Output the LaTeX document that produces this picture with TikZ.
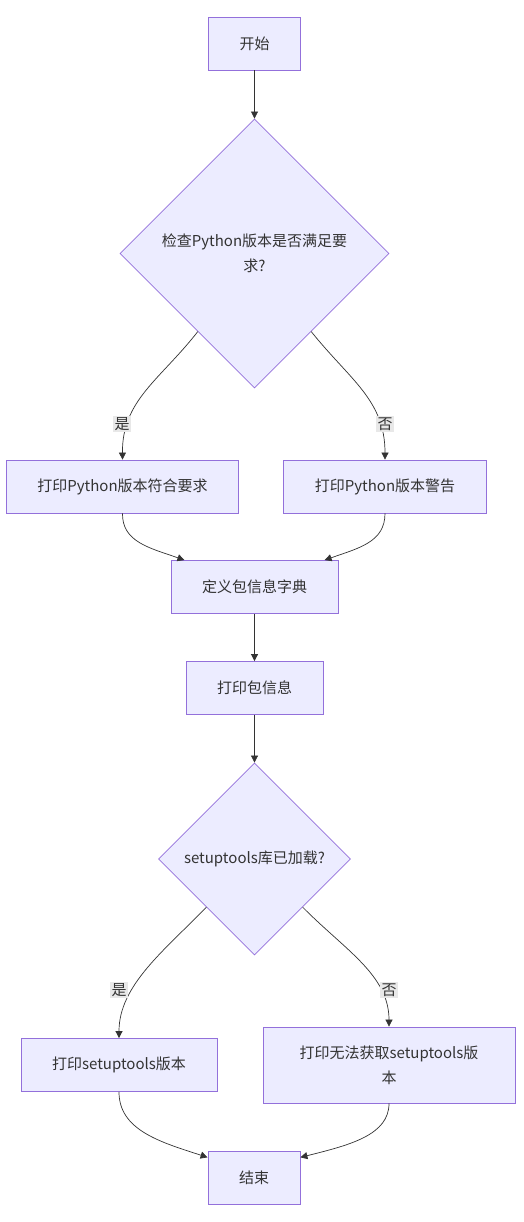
\documentclass[tikz,border=0pt]{standalone}
\usepackage{fontspec}
\setmainfont{Noto Sans CJK SC}
\usetikzlibrary{shapes.geometric,arrows.meta}
\definecolor{boxfill}{HTML}{ECECFF}
\definecolor{boxline}{HTML}{9370DB}
\definecolor{edgeline}{HTML}{333333}
\definecolor{tagfill}{HTML}{E8E8E8}

\begin{document}
\begin{tikzpicture}[%
      x=1pt, y=-1pt,
      font=\fontsize{15}{25}\selectfont,
      box/.style={draw=boxline, fill=boxfill, line width=0.8pt, minimum height=53pt, inner xsep=31pt, align=center, text=edgeline},
      decision/.style={diamond, draw=boxline, fill=boxfill, line width=0.8pt, aspect=1, align=center, inner sep=0pt, text=edgeline},
      edge/.style={draw=edgeline, line width=0.7pt, -{Triangle[length=7pt,width=7pt]}},
      tag/.style={fill=tagfill, inner sep=1.5pt, text=edgeline},
      ]
      \useasboundingbox (0,0) rectangle (524,1222);

      \node [box] (start) at (254.5,43.5) {开始};
      \node [decision, minimum size=269pt] (pycheck) at (254.5,253.5) {检查Python版本是否满足要\\求?};
      \node [box] (pyok) at (122.5,486.5) {打印Python版本符合要求};
      \node [box] (pywarn) at (385,486.5) {打印Python版本警告};
      \node [box] (pkgdict) at (254.5,587) {定义包信息字典};
      \node [box] (pkgprint) at (254.5,688) {打印包信息};
      \node [decision, minimum size=192pt] (stcheck) at (254.5,859) {setuptools库已加载?};
      \node [box] (stok) at (119,1065) {打印setuptools版本};
      \node [box, minimum height=76pt, minimum width=252pt] (stfail) at (389,1065) {打印无法获取setuptools版\\本};
      \node [box] (finish) at (254,1178) {结束};

      \draw [edge] (start) -- (pycheck);
      \draw [edge] (pycheck.-126) .. controls (160,380) and (122,400) .. (pyok.north);
      \draw [edge] (pycheck.-54) .. controls (350,380) and (385,400) .. (pywarn.north);
      \draw [edge] (pyok.south) .. controls (122,542) and (150,548) .. (pkgdict.159);
      \draw [edge] (pywarn.south) .. controls (385,542) and (359,548) .. (pkgdict.21);
      \draw [edge] (pkgdict) -- (pkgprint);
      \draw [edge] (pkgprint) -- (stcheck);
      \draw [edge] (stcheck.-135) .. controls (165,950) and (119,985) .. (stok.north);
      \draw [edge] (stcheck.-45) .. controls (345,950) and (389,975) .. (stfail.north);
      \draw [edge] (stok.south) .. controls (119,1130) and (160,1142) .. (finish.156);
      \draw [edge] (stfail.south) .. controls (389,1135) and (350,1145) .. (finish.24);

      \node [tag] (yes1) at (122,424) {是};
      \node [tag] (no1) at (385,424) {否};
      \node [tag] (yes2) at (119,990) {是};
      \node [tag] (no2) at (389,990) {否};
      \end{tikzpicture}
\end{document}
